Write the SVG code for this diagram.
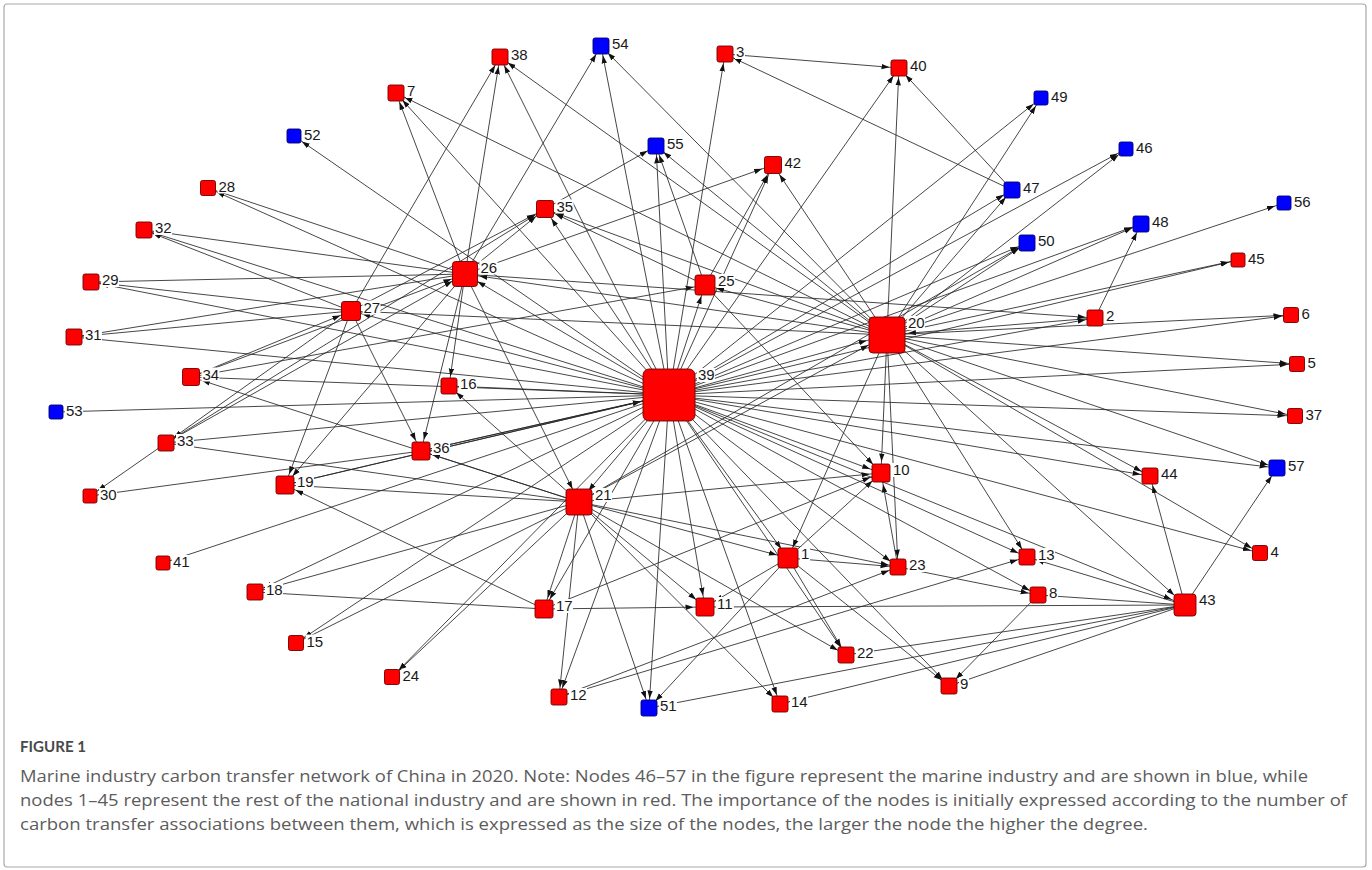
<svg xmlns="http://www.w3.org/2000/svg" width="1372" height="870" viewBox="0 0 1372 870">
<style>
.e line{stroke:#262626;stroke-width:0.85;fill:none}
.r{fill:#ff0000;stroke:#6e0000;stroke-width:0.9}
.b{fill:#0000ff;stroke:#00006e;stroke-width:0.9}
.lb{fill:#ffffff}
.t{font-family:"Liberation Sans",Arial,sans-serif;font-size:15px;fill:#1a1a1a}
.cap{font-family:"Open Sans","Noto Sans",sans-serif;font-size:15.5px;fill:#5c5c5c}
.fig{font-family:Lato,"Open Sans",sans-serif;font-size:16px;font-weight:700;fill:#4a4a4a}
</style>
<defs>
<marker id="ms" markerUnits="userSpaceOnUse" markerWidth="8" markerHeight="6" refX="17.5" refY="3" orient="auto"><path d="M0,0.3 L8,3 L0,5.7 z" fill="#111"/></marker>
<marker id="mm" markerUnits="userSpaceOnUse" markerWidth="8" markerHeight="6" refX="19.5" refY="3" orient="auto"><path d="M0,0.3 L8,3 L0,5.7 z" fill="#111"/></marker>
<marker id="ml" markerUnits="userSpaceOnUse" markerWidth="8" markerHeight="6" refX="22.5" refY="3" orient="auto"><path d="M0,0.3 L8,3 L0,5.7 z" fill="#111"/></marker>
<marker id="mx" markerUnits="userSpaceOnUse" markerWidth="8" markerHeight="6" refX="29" refY="3" orient="auto"><path d="M0,0.3 L8,3 L0,5.7 z" fill="#111"/></marker>
<marker id="mxx" markerUnits="userSpaceOnUse" markerWidth="8" markerHeight="6" refX="37" refY="3" orient="auto"><path d="M0,0.3 L8,3 L0,5.7 z" fill="#111"/></marker>
</defs>
<rect x="4" y="4" width="1362" height="863" rx="3" fill="#ffffff" stroke="#a8a8a8" stroke-width="1.2"/>
<g id="edges" class="e">
<g marker-end="url(#mxx)">
<line x1="421" y1="451" x2="669" y2="395"/>
<line x1="285" y1="485" x2="669" y2="395"/>
</g>
<g marker-end="url(#mx)">
<line x1="669" y1="395" x2="887" y2="335"/>
<line x1="579" y1="502" x2="887" y2="335"/>
<line x1="1095" y1="318" x2="887" y2="335"/>
</g>
<g marker-end="url(#ml)">
<line x1="669" y1="395" x2="579" y2="502"/>
<line x1="465" y1="274" x2="579" y2="502"/>
<line x1="669" y1="395" x2="465" y2="274"/>
<line x1="887" y1="335" x2="465" y2="274"/>
<line x1="166" y1="443" x2="465" y2="274"/>
<line x1="191" y1="377" x2="465" y2="274"/>
<line x1="669" y1="395" x2="1185" y2="605"/>
<line x1="887" y1="335" x2="1185" y2="605"/>
</g>
<g marker-end="url(#mm)">
<line x1="669" y1="395" x2="788" y2="558"/>
<line x1="887" y1="335" x2="788" y2="558"/>
<line x1="579" y1="502" x2="788" y2="558"/>
<line x1="669" y1="395" x2="705" y2="285"/>
<line x1="887" y1="335" x2="705" y2="285"/>
<line x1="191" y1="377" x2="705" y2="285"/>
<line x1="669" y1="395" x2="351" y2="311"/>
<line x1="887" y1="335" x2="351" y2="311"/>
<line x1="191" y1="377" x2="351" y2="311"/>
<line x1="669" y1="395" x2="421" y2="451"/>
<line x1="465" y1="274" x2="421" y2="451"/>
<line x1="351" y1="311" x2="421" y2="451"/>
<line x1="579" y1="502" x2="421" y2="451"/>
<line x1="669" y1="395" x2="881" y2="473"/>
<line x1="887" y1="335" x2="881" y2="473"/>
<line x1="579" y1="502" x2="881" y2="473"/>
<line x1="544" y1="609" x2="881" y2="473"/>
<line x1="788" y1="558" x2="881" y2="473"/>
<line x1="705" y1="285" x2="881" y2="473"/>
<line x1="898" y1="567" x2="881" y2="473"/>
<line x1="669" y1="395" x2="544" y2="609"/>
<line x1="579" y1="502" x2="544" y2="609"/>
<line x1="669" y1="395" x2="705" y2="607"/>
<line x1="579" y1="502" x2="705" y2="607"/>
<line x1="544" y1="609" x2="705" y2="607"/>
<line x1="788" y1="558" x2="705" y2="607"/>
<line x1="1185" y1="605" x2="705" y2="607"/>
<line x1="669" y1="395" x2="285" y2="485"/>
<line x1="351" y1="311" x2="285" y2="485"/>
<line x1="465" y1="274" x2="285" y2="485"/>
<line x1="544" y1="609" x2="285" y2="485"/>
<line x1="579" y1="502" x2="285" y2="485"/>
<line x1="669" y1="395" x2="545" y2="209"/>
<line x1="465" y1="274" x2="545" y2="209"/>
<line x1="705" y1="285" x2="545" y2="209"/>
<line x1="887" y1="335" x2="545" y2="209"/>
<line x1="351" y1="311" x2="545" y2="209"/>
<line x1="166" y1="443" x2="545" y2="209"/>
<line x1="669" y1="395" x2="773" y2="165"/>
<line x1="465" y1="274" x2="773" y2="165"/>
<line x1="705" y1="285" x2="773" y2="165"/>
<line x1="887" y1="335" x2="773" y2="165"/>
<line x1="669" y1="395" x2="191" y2="377"/>
<line x1="579" y1="502" x2="191" y2="377"/>
</g>
<g marker-end="url(#ms)">
<line x1="669" y1="395" x2="500" y2="57"/>
<line x1="887" y1="335" x2="500" y2="57"/>
<line x1="465" y1="274" x2="500" y2="57"/>
<line x1="351" y1="311" x2="500" y2="57"/>
<line x1="669" y1="395" x2="601" y2="46"/>
<line x1="887" y1="335" x2="601" y2="46"/>
<line x1="465" y1="274" x2="601" y2="46"/>
<line x1="669" y1="395" x2="725" y2="54"/>
<line x1="1012" y1="190" x2="725" y2="54"/>
<line x1="669" y1="395" x2="656" y2="146"/>
<line x1="545" y1="209" x2="656" y2="146"/>
<line x1="705" y1="285" x2="656" y2="146"/>
<line x1="887" y1="335" x2="656" y2="146"/>
<line x1="669" y1="395" x2="396" y2="93"/>
<line x1="465" y1="274" x2="396" y2="93"/>
<line x1="887" y1="335" x2="396" y2="93"/>
<line x1="669" y1="395" x2="294" y2="136"/>
<line x1="669" y1="395" x2="208" y2="188"/>
<line x1="465" y1="274" x2="208" y2="188"/>
<line x1="669" y1="395" x2="144" y2="230"/>
<line x1="465" y1="274" x2="144" y2="230"/>
<line x1="351" y1="311" x2="144" y2="230"/>
<line x1="669" y1="395" x2="91" y2="282"/>
<line x1="465" y1="274" x2="91" y2="282"/>
<line x1="351" y1="311" x2="91" y2="282"/>
<line x1="669" y1="395" x2="74" y2="337"/>
<line x1="465" y1="274" x2="74" y2="337"/>
<line x1="351" y1="311" x2="74" y2="337"/>
<line x1="669" y1="395" x2="56" y2="412"/>
<line x1="669" y1="395" x2="166" y2="443"/>
<line x1="579" y1="502" x2="166" y2="443"/>
<line x1="351" y1="311" x2="166" y2="443"/>
<line x1="669" y1="395" x2="449" y2="386"/>
<line x1="465" y1="274" x2="449" y2="386"/>
<line x1="579" y1="502" x2="449" y2="386"/>
<line x1="669" y1="395" x2="559" y2="697"/>
<line x1="579" y1="502" x2="559" y2="697"/>
<line x1="669" y1="395" x2="649" y2="708"/>
<line x1="579" y1="502" x2="649" y2="708"/>
<line x1="788" y1="558" x2="649" y2="708"/>
<line x1="1185" y1="605" x2="649" y2="708"/>
<line x1="669" y1="395" x2="780" y2="704"/>
<line x1="579" y1="502" x2="780" y2="704"/>
<line x1="1185" y1="605" x2="780" y2="704"/>
<line x1="669" y1="395" x2="846" y2="655"/>
<line x1="579" y1="502" x2="846" y2="655"/>
<line x1="788" y1="558" x2="846" y2="655"/>
<line x1="1185" y1="605" x2="846" y2="655"/>
<line x1="669" y1="395" x2="949" y2="686"/>
<line x1="788" y1="558" x2="949" y2="686"/>
<line x1="1038" y1="595" x2="949" y2="686"/>
<line x1="1185" y1="605" x2="949" y2="686"/>
<line x1="669" y1="395" x2="1038" y2="595"/>
<line x1="898" y1="567" x2="1038" y2="595"/>
<line x1="1185" y1="605" x2="1038" y2="595"/>
<line x1="669" y1="395" x2="898" y2="567"/>
<line x1="887" y1="335" x2="898" y2="567"/>
<line x1="579" y1="502" x2="898" y2="567"/>
<line x1="788" y1="558" x2="898" y2="567"/>
<line x1="559" y1="697" x2="898" y2="567"/>
<line x1="669" y1="395" x2="1027" y2="557"/>
<line x1="887" y1="335" x2="1027" y2="557"/>
<line x1="559" y1="697" x2="1027" y2="557"/>
<line x1="1185" y1="605" x2="1027" y2="557"/>
<line x1="669" y1="395" x2="1260" y2="553"/>
<line x1="887" y1="335" x2="1260" y2="553"/>
<line x1="669" y1="395" x2="1150" y2="476"/>
<line x1="887" y1="335" x2="1150" y2="476"/>
<line x1="1185" y1="605" x2="1150" y2="476"/>
<line x1="669" y1="395" x2="1277" y2="468"/>
<line x1="887" y1="335" x2="1277" y2="468"/>
<line x1="1185" y1="605" x2="1277" y2="468"/>
<line x1="669" y1="395" x2="1295" y2="416"/>
<line x1="887" y1="335" x2="1295" y2="416"/>
<line x1="669" y1="395" x2="1297" y2="364"/>
<line x1="887" y1="335" x2="1297" y2="364"/>
<line x1="669" y1="395" x2="1291" y2="315"/>
<line x1="887" y1="335" x2="1291" y2="315"/>
<line x1="669" y1="395" x2="1238" y2="260"/>
<line x1="887" y1="335" x2="1238" y2="260"/>
<line x1="669" y1="395" x2="1095" y2="318"/>
<line x1="465" y1="274" x2="1095" y2="318"/>
<line x1="669" y1="395" x2="1027" y2="243"/>
<line x1="887" y1="335" x2="1027" y2="243"/>
<line x1="579" y1="502" x2="1027" y2="243"/>
<line x1="669" y1="395" x2="1141" y2="224"/>
<line x1="887" y1="335" x2="1141" y2="224"/>
<line x1="1095" y1="318" x2="1141" y2="224"/>
<line x1="669" y1="395" x2="1126" y2="149"/>
<line x1="887" y1="335" x2="1126" y2="149"/>
<line x1="669" y1="395" x2="1041" y2="98"/>
<line x1="887" y1="335" x2="1041" y2="98"/>
<line x1="669" y1="395" x2="1012" y2="190"/>
<line x1="887" y1="335" x2="1012" y2="190"/>
<line x1="669" y1="395" x2="899" y2="68"/>
<line x1="887" y1="335" x2="899" y2="68"/>
<line x1="725" y1="54" x2="899" y2="68"/>
<line x1="1012" y1="190" x2="899" y2="68"/>
<line x1="887" y1="335" x2="1284" y2="203"/>
<line x1="669" y1="395" x2="163" y2="563"/>
<line x1="669" y1="395" x2="255" y2="592"/>
<line x1="579" y1="502" x2="255" y2="592"/>
<line x1="544" y1="609" x2="255" y2="592"/>
<line x1="669" y1="395" x2="296" y2="643"/>
<line x1="579" y1="502" x2="296" y2="643"/>
<line x1="669" y1="395" x2="392" y2="677"/>
<line x1="579" y1="502" x2="392" y2="677"/>
<line x1="166" y1="443" x2="90" y2="496"/>
<line x1="421" y1="451" x2="90" y2="496"/>
</g>
</g>
<g id="n1"><rect class="r" x="778" y="548" width="20" height="20" rx="2.5"/><rect class="lb" x="800" y="547" width="10" height="14"/><text class="t" x="801" y="559">1</text></g>
<g id="n2"><rect class="r" x="1087" y="310" width="16" height="16" rx="2"/><rect class="lb" x="1105" y="309" width="10" height="14"/><text class="t" x="1106" y="321">2</text></g>
<g id="n3"><rect class="r" x="717" y="46" width="16" height="16" rx="2"/><rect class="lb" x="735" y="45" width="10" height="14"/><text class="t" x="736" y="57">3</text></g>
<g id="n4"><rect class="r" x="1252.5" y="545.5" width="15" height="15" rx="2"/><rect class="lb" x="1269.5" y="544.5" width="10" height="14"/><text class="t" x="1270.5" y="556.5">4</text></g>
<g id="n5"><rect class="r" x="1289.5" y="356.5" width="15" height="15" rx="2"/><rect class="lb" x="1306.5" y="355.5" width="10" height="14"/><text class="t" x="1307.5" y="367.5">5</text></g>
<g id="n6"><rect class="r" x="1283.5" y="307.5" width="15" height="15" rx="2"/><rect class="lb" x="1300.5" y="306.5" width="10" height="14"/><text class="t" x="1301.5" y="318.5">6</text></g>
<g id="n7"><rect class="r" x="388" y="85" width="16" height="16" rx="2"/><rect class="lb" x="406" y="84" width="10" height="14"/><text class="t" x="407" y="96">7</text></g>
<g id="n8"><rect class="r" x="1030" y="587" width="16" height="16" rx="2"/><rect class="lb" x="1048" y="586" width="10" height="14"/><text class="t" x="1049" y="598">8</text></g>
<g id="n9"><rect class="r" x="941" y="678" width="16" height="16" rx="2"/><rect class="lb" x="959" y="677" width="10" height="14"/><text class="t" x="960" y="689">9</text></g>
<g id="n10"><rect class="r" x="872" y="464" width="18" height="18" rx="2"/><rect class="lb" x="892" y="463" width="18" height="14"/><text class="t" x="893" y="475">10</text></g>
<g id="n11"><rect class="r" x="696" y="598" width="18" height="18" rx="2"/><rect class="lb" x="716" y="597" width="18" height="14"/><text class="t" x="717" y="609">11</text></g>
<g id="n12"><rect class="r" x="551" y="689" width="16" height="16" rx="2"/><rect class="lb" x="569" y="688" width="18" height="14"/><text class="t" x="570" y="700">12</text></g>
<g id="n13"><rect class="r" x="1019" y="549" width="16" height="16" rx="2"/><rect class="lb" x="1037" y="548" width="18" height="14"/><text class="t" x="1038" y="560">13</text></g>
<g id="n14"><rect class="r" x="772" y="696" width="16" height="16" rx="2"/><rect class="lb" x="790" y="695" width="18" height="14"/><text class="t" x="791" y="707">14</text></g>
<g id="n15"><rect class="r" x="288.5" y="635.5" width="15" height="15" rx="2"/><rect class="lb" x="305.5" y="634.5" width="18" height="14"/><text class="t" x="306.5" y="646.5">15</text></g>
<g id="n16"><rect class="r" x="441" y="378" width="16" height="16" rx="2"/><rect class="lb" x="459" y="377" width="18" height="14"/><text class="t" x="460" y="389">16</text></g>
<g id="n17"><rect class="r" x="535" y="600" width="18" height="18" rx="2"/><rect class="lb" x="555" y="599" width="18" height="14"/><text class="t" x="556" y="611">17</text></g>
<g id="n18"><rect class="r" x="247" y="584" width="16" height="16" rx="2"/><rect class="lb" x="265" y="583" width="18" height="14"/><text class="t" x="266" y="595">18</text></g>
<g id="n19"><rect class="r" x="276" y="476" width="18" height="18" rx="2"/><rect class="lb" x="296" y="475" width="18" height="14"/><text class="t" x="297" y="487">19</text></g>
<g id="n20"><rect class="r" x="869" y="317" width="36" height="36" rx="4"/><rect class="lb" x="907" y="316" width="18" height="14"/><text class="t" x="908" y="328">20</text></g>
<g id="n21"><rect class="r" x="566" y="489" width="26" height="26" rx="3"/><rect class="lb" x="594" y="488" width="18" height="14"/><text class="t" x="595" y="500">21</text></g>
<g id="n22"><rect class="r" x="838" y="647" width="16" height="16" rx="2"/><rect class="lb" x="856" y="646" width="18" height="14"/><text class="t" x="857" y="658">22</text></g>
<g id="n23"><rect class="r" x="890" y="559" width="16" height="16" rx="2"/><rect class="lb" x="908" y="558" width="18" height="14"/><text class="t" x="909" y="570">23</text></g>
<g id="n24"><rect class="r" x="384.5" y="669.5" width="15" height="15" rx="2"/><rect class="lb" x="401.5" y="668.5" width="18" height="14"/><text class="t" x="402.5" y="680.5">24</text></g>
<g id="n25"><rect class="r" x="695" y="275" width="20" height="20" rx="2.5"/><rect class="lb" x="717" y="274" width="18" height="14"/><text class="t" x="718" y="286">25</text></g>
<g id="n26"><rect class="r" x="452.5" y="261.5" width="25" height="25" rx="3"/><rect class="lb" x="479.5" y="260.5" width="18" height="14"/><text class="t" x="480.5" y="272.5">26</text></g>
<g id="n27"><rect class="r" x="341.5" y="301.5" width="19" height="19" rx="2.5"/><rect class="lb" x="362.5" y="300.5" width="18" height="14"/><text class="t" x="363.5" y="312.5">27</text></g>
<g id="n28"><rect class="r" x="200.5" y="180.5" width="15" height="15" rx="2"/><rect class="lb" x="217.5" y="179.5" width="18" height="14"/><text class="t" x="218.5" y="191.5">28</text></g>
<g id="n29"><rect class="r" x="83" y="274" width="16" height="16" rx="2"/><rect class="lb" x="101" y="273" width="18" height="14"/><text class="t" x="102" y="285">29</text></g>
<g id="n30"><rect class="r" x="83" y="489" width="14" height="14" rx="2"/><rect class="lb" x="99" y="488" width="18" height="14"/><text class="t" x="100" y="500">30</text></g>
<g id="n31"><rect class="r" x="66" y="329" width="16" height="16" rx="2"/><rect class="lb" x="84" y="328" width="18" height="14"/><text class="t" x="85" y="340">31</text></g>
<g id="n32"><rect class="r" x="136" y="222" width="16" height="16" rx="2"/><rect class="lb" x="154" y="221" width="18" height="14"/><text class="t" x="155" y="233">32</text></g>
<g id="n33"><rect class="r" x="158" y="435" width="16" height="16" rx="2"/><rect class="lb" x="176" y="434" width="18" height="14"/><text class="t" x="177" y="446">33</text></g>
<g id="n34"><rect class="r" x="182.5" y="368.5" width="17" height="17" rx="2"/><rect class="lb" x="201.5" y="367.5" width="18" height="14"/><text class="t" x="202.5" y="379.5">34</text></g>
<g id="n35"><rect class="r" x="536.5" y="200.5" width="17" height="17" rx="2"/><rect class="lb" x="555.5" y="199.5" width="18" height="14"/><text class="t" x="556.5" y="211.5">35</text></g>
<g id="n36"><rect class="r" x="412" y="442" width="18" height="18" rx="2"/><rect class="lb" x="432" y="441" width="18" height="14"/><text class="t" x="433" y="453">36</text></g>
<g id="n37"><rect class="r" x="1287.5" y="408.5" width="15" height="15" rx="2"/><rect class="lb" x="1304.5" y="407.5" width="18" height="14"/><text class="t" x="1305.5" y="419.5">37</text></g>
<g id="n38"><rect class="r" x="492" y="49" width="16" height="16" rx="2"/><rect class="lb" x="510" y="48" width="18" height="14"/><text class="t" x="511" y="60">38</text></g>
<g id="n39"><rect class="r" x="643" y="369" width="52" height="52" rx="6"/><rect class="lb" x="697" y="368" width="18" height="14"/><text class="t" x="698" y="380">39</text></g>
<g id="n40"><rect class="r" x="891" y="60" width="16" height="16" rx="2"/><rect class="lb" x="909" y="59" width="18" height="14"/><text class="t" x="910" y="71">40</text></g>
<g id="n41"><rect class="r" x="156" y="556" width="14" height="14" rx="2"/><rect class="lb" x="172" y="555" width="18" height="14"/><text class="t" x="173" y="567">41</text></g>
<g id="n42"><rect class="r" x="764.5" y="156.5" width="17" height="17" rx="2"/><rect class="lb" x="783.5" y="155.5" width="18" height="14"/><text class="t" x="784.5" y="167.5">42</text></g>
<g id="n43"><rect class="r" x="1174" y="594" width="22" height="22" rx="3"/><rect class="lb" x="1198" y="593" width="18" height="14"/><text class="t" x="1199" y="605">43</text></g>
<g id="n44"><rect class="r" x="1142" y="468" width="16" height="16" rx="2"/><rect class="lb" x="1160" y="467" width="18" height="14"/><text class="t" x="1161" y="479">44</text></g>
<g id="n45"><rect class="r" x="1231" y="253" width="14" height="14" rx="2"/><rect class="lb" x="1247" y="252" width="18" height="14"/><text class="t" x="1248" y="264">45</text></g>
<g id="n46"><rect class="b" x="1119" y="142" width="14" height="14" rx="2"/><rect class="lb" x="1135" y="141" width="18" height="14"/><text class="t" x="1136" y="153">46</text></g>
<g id="n47"><rect class="b" x="1004" y="182" width="16" height="16" rx="2"/><rect class="lb" x="1022" y="181" width="18" height="14"/><text class="t" x="1023" y="193">47</text></g>
<g id="n48"><rect class="b" x="1133" y="216" width="16" height="16" rx="2"/><rect class="lb" x="1151" y="215" width="18" height="14"/><text class="t" x="1152" y="227">48</text></g>
<g id="n49"><rect class="b" x="1034" y="91" width="14" height="14" rx="2"/><rect class="lb" x="1050" y="90" width="18" height="14"/><text class="t" x="1051" y="102">49</text></g>
<g id="n50"><rect class="b" x="1019" y="235" width="16" height="16" rx="2"/><rect class="lb" x="1037" y="234" width="18" height="14"/><text class="t" x="1038" y="246">50</text></g>
<g id="n51"><rect class="b" x="641" y="700" width="16" height="16" rx="2"/><rect class="lb" x="659" y="699" width="18" height="14"/><text class="t" x="660" y="711">51</text></g>
<g id="n52"><rect class="b" x="287" y="129" width="14" height="14" rx="2"/><rect class="lb" x="303" y="128" width="18" height="14"/><text class="t" x="304" y="140">52</text></g>
<g id="n53"><rect class="b" x="49" y="405" width="14" height="14" rx="2"/><rect class="lb" x="65" y="404" width="18" height="14"/><text class="t" x="66" y="416">53</text></g>
<g id="n54"><rect class="b" x="593" y="38" width="16" height="16" rx="2"/><rect class="lb" x="611" y="37" width="18" height="14"/><text class="t" x="612" y="49">54</text></g>
<g id="n55"><rect class="b" x="648" y="138" width="16" height="16" rx="2"/><rect class="lb" x="666" y="137" width="18" height="14"/><text class="t" x="667" y="149">55</text></g>
<g id="n56"><rect class="b" x="1277" y="196" width="14" height="14" rx="2"/><rect class="lb" x="1293" y="195" width="18" height="14"/><text class="t" x="1294" y="207">56</text></g>
<g id="n57"><rect class="b" x="1269" y="460" width="16" height="16" rx="2"/><rect class="lb" x="1287" y="459" width="18" height="14"/><text class="t" x="1288" y="471">57</text></g>
<g id="caption">
<text class="fig" x="20" y="752" textLength="66" lengthAdjust="spacingAndGlyphs">FIGURE 1</text>
<text class="cap" x="20" y="782" textLength="1288" lengthAdjust="spacingAndGlyphs">Marine industry carbon transfer network of China in 2020. Note: Nodes 46–57 in the figure represent the marine industry and are shown in blue, while</text>
<text class="cap" x="20" y="806" textLength="1327" lengthAdjust="spacingAndGlyphs">nodes 1–45 represent the rest of the national industry and are shown in red. The importance of the nodes is initially expressed according to the number of</text>
<text class="cap" x="20" y="830" textLength="1128" lengthAdjust="spacingAndGlyphs">carbon transfer associations between them, which is expressed as the size of the nodes, the larger the node the higher the degree.</text>
</g>
</svg>
